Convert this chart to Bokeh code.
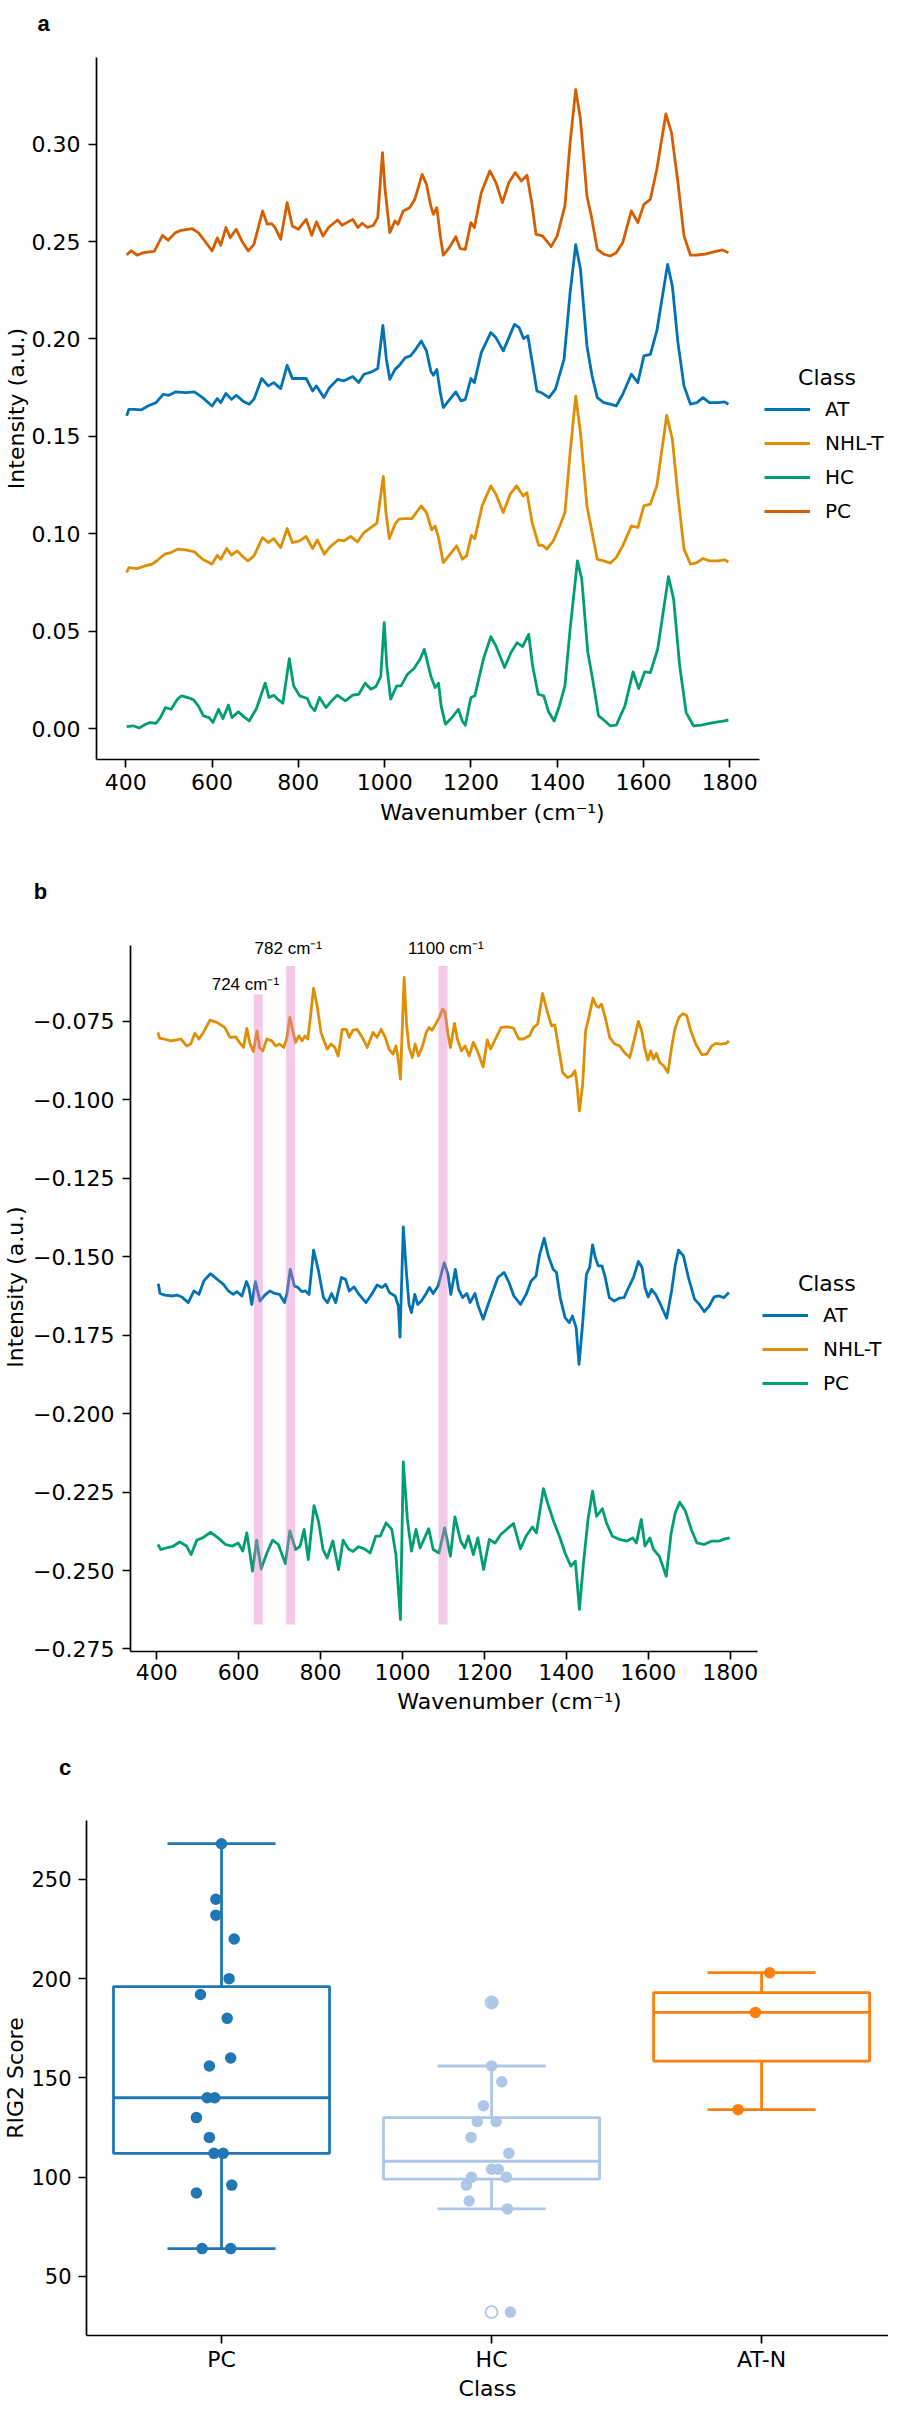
import numpy as np
from bokeh.plotting import figure
from bokeh.layouts import column
from bokeh.models import (Range1d, FixedTicker, CustomJSTickFormatter, Legend,
                          LegendItem, Label)
from bokeh.core.properties import value
from bokeh.embed import file_html
from bokeh.resources import INLINE

# ---------------- data ----------------
# panel a: mean spectra (wavenumber, intensity)
SPEC_A_PC = [(402,.2431),(412,.2453),(426,.2430),(441,.2443),(456,.2447),(466,.2450),(485,.2532),(498,.2507),
 (515,.2546),(529,.2558),(554,.2566),(568,.2546),(583,.2503),(600,.2452),(612,.2519),(620,.2481),(632,.2572),
 (642,.2520),(656,.2563),(671,.2495),(684,.2452),(697,.2486),(717,.2657),(728,.2589),(738,.2592),(746,.2572),
 (759,.2512),(774,.2700),(786,.2580),(800,.2563),(818,.2614),(831,.2532),(842,.2601),(857,.2529),(870,.2572),
 (891,.2611),(901,.2584),(926,.2614),(938,.2572),(948,.2594),(960,.2572),(974,.2584),(984,.2623),(995,.2957),
 (1001,.2768),(1012,.2546),(1024,.2606),(1031,.2589),(1043,.2657),(1058,.2674),(1070,.2717),(1087,.2845),
 (1097,.2794),(1107,.2683),(1113,.2640),(1121,.2674),(1129,.2529),(1136,.2430),(1150,.2469),(1165,.2525),
 (1175,.2464),(1187,.2460),(1200,.2597),(1208,.2572),(1224,.2751),(1244,.2863),(1258,.2803),(1273,.2700),
 (1288,.2803),(1303,.2854),(1317,.2811),(1330,.2840),(1341,.2700),(1351,.2537),(1366,.2529),(1386,.2474),
 (1400,.2529),(1418,.2683),(1430,.3008),(1443,.3280),(1454,.3128),(1469,.2734),(1479,.2632),(1493,.2460),
 (1508,.2435),(1523,.2426),(1537,.2443),(1552,.2495),(1572,.2657),(1587,.2597),(1601,.2691),(1616,.2717),
 (1631,.2871),(1652,.3155),(1665,.3059),(1680,.2803),(1694,.2529),(1709,.2430),(1724,.2431),(1743,.2436),
 (1763,.2447),(1783,.2457),(1797,.2443)]
SPEC_A_AT = [(402,.1605),(407,.1639),(421,.1639),(436,.1636),(451,.1656),(470,.1673),(487,.1716),(500,.1711),
 (515,.1728),(539,.1725),(559,.1728),(578,.1699),(600,.1656),(612,.1694),(620,.1673),(632,.1720),(645,.1690),
 (656,.1711),(671,.1682),(686,.1665),(697,.1690),(715,.1797),(730,.1759),(743,.1776),(759,.1745),(774,.1865),
 (786,.1797),(803,.1797),(818,.1797),(833,.1733),(842,.1759),(859,.1699),(872,.1750),(891,.1793),(906,.1785),
 (926,.1807),(940,.1776),(952,.1819),(970,.1831),(984,.1848),(996,.2070),(1004,.1896),(1012,.1793),(1024,.1844),
 (1033,.1862),(1048,.1904),(1060,.1913),(1072,.1947),(1085,.1990),(1097,.1939),(1107,.1836),(1113,.1814),
 (1121,.1844),(1129,.1725),(1136,.1648),(1150,.1687),(1165,.1728),(1177,.1682),(1187,.1690),(1200,.1797),
 (1208,.1776),(1224,.1930),(1246,.2033),(1258,.2007),(1275,.1939),(1288,.2007),(1301,.2075),(1312,.2058),
 (1322,.2002),(1332,.2016),(1341,.1896),(1353,.1733),(1366,.1721),(1381,.1699),(1396,.1742),(1416,.1896),
 (1430,.2238),(1443,.2484),(1454,.2358),(1469,.1964),(1481,.1810),(1493,.1699),(1508,.1673),(1523,.1665),
 (1537,.1656),(1552,.1716),(1572,.1819),(1587,.1776),(1601,.1913),(1616,.1921),(1631,.2041),(1656,.2383),
 (1667,.2272),(1680,.1981),(1694,.1759),(1709,.1665),(1724,.1673),(1738,.1699),(1753,.1673),(1773,.1673),
 (1788,.1677),(1797,.1665)]
SPEC_A_NHLT = [(402,.0801),(407,.0826),(426,.0821),(441,.0832),(461,.0844),(476,.0869),(490,.0895),(505,.0903),
 (520,.0921),(539,.0917),(559,.0907),(578,.0869),(600,.0844),(612,.0890),(620,.0869),(634,.0924),(645,.0890),
 (658,.0912),(671,.0883),(683,.0861),(697,.0886),(717,.0980),(730,.0955),(743,.0975),(759,.0929),(774,.1027),
 (786,.0955),(803,.0963),(818,.0986),(833,.0924),(844,.0968),(860,.0895),(874,.0934),(893,.0968),(906,.0963),
 (921,.0986),(937,.0958),(952,.1006),(968,.1032),(982,.1054),(997,.1294),(1003,.1109),(1011,.0975),(1024,.1049),
 (1033,.1075),(1046,.1078),(1063,.1078),(1085,.1143),(1097,.1109),(1109,.1020),(1117,.1040),(1125,.0980),
 (1136,.0852),(1150,.0890),(1167,.0938),(1180,.0869),(1190,.0886),(1201,.0992),(1209,.0975),(1226,.1143),
 (1246,.1246),(1258,.1203),(1275,.1109),(1291,.1203),(1306,.1246),(1321,.1194),(1330,.1211),(1342,.1057),
 (1357,.0941),(1366,.0941),(1376,.0921),(1391,.0963),(1406,.1040),(1418,.1109),(1430,.1417),(1443,.1707),
 (1454,.1519),(1469,.1143),(1481,.1006),(1493,.0869),(1508,.0861),(1523,.0849),(1537,.0878),(1552,.0938),
 (1572,.1040),(1587,.1032),(1601,.1143),(1616,.1152),(1631,.1246),(1654,.1608),(1667,.1485),(1680,.1194),
 (1694,.0921),(1709,.0844),(1724,.0852),(1738,.0873),(1753,.0861),(1773,.0861),(1788,.0866),(1797,.0855)]
SPEC_A_HC = [(402,.0010),(417,.0014),(431,.0003),(446,.0022),(456,.0031),(470,.0027),(480,.0056),(492,.0108),
 (505,.0099),(520,.0151),(529,.0168),(544,.0159),(557,.0147),(568,.0116),(580,.0065),(593,.0056),(602,.0031),
 (615,.0099),(625,.0051),(638,.0120),(646,.0056),(661,.0086),(671,.0065),(686,.0039),(703,.0103),(723,.0233),
 (732,.0159),(743,.0171),(754,.0147),(764,.0130),(779,.0359),(789,.0219),(803,.0168),(821,.0154),(828,.0116),
 (838,.0091),(849,.0159),(864,.0108),(877,.0142),(890,.0171),(909,.0142),(926,.0171),(940,.0176),(955,.0233),
 (968,.0202),(980,.0216),(991,.0267),(999,.0544),(1005,.0322),(1014,.0151),(1028,.0219),(1038,.0219),
 (1053,.0279),(1068,.0308),(1082,.0356),(1092,.0407),(1107,.0270),(1117,.0210),(1125,.0233),(1131,.0116),
 (1141,.0022),(1156,.0056),(1171,.0099),(1180,.0039),(1187,.0017),(1200,.0159),(1209,.0168),(1229,.0356),
 (1246,.0472),(1258,.0424),(1278,.0313),(1293,.0390),(1307,.0441),(1320,.0421),(1334,.0484),(1343,.0322),
 (1356,.0176),(1369,.0168),(1380,.0086),(1393,.0039),(1405,.0116),(1418,.0219),(1430,.0510),(1447,.0861),
 (1457,.0767),(1471,.0390),(1481,.0270),(1496,.0065),(1508,.0044),(1523,.0014),(1537,.0017),(1557,.0116),
 (1576,.0291),(1589,.0205),(1603,.0291),(1616,.0287),(1633,.0407),(1658,.0780),(1670,.0664),(1684,.0322),
 (1699,.0082),(1716,.0014),(1734,.0017),(1753,.0027),(1773,.0034),(1788,.0039),(1797,.0044)]

# panel b: difference spectra
SPEC_B_NHLT = [(403,-.0785),(407,-.0803),(419,-.0806),(434,-.0812),(449,-.0809),(459,-.0806),(473,-.0828),
 (483,-.0822),(493,-.0788),(503,-.0806),(514,-.0785),(530,-.0746),(547,-.0753),(566,-.0769),(579,-.0801),
 (593,-.0799),(602,-.0817),(612,-.0833),(620,-.0772),(628,-.0822),(636,-.0846),(645,-.0780),(651,-.0833),
 (659,-.0844),(669,-.0806),(681,-.0812),(690,-.0828),(700,-.0822),(710,-.0833),(718,-.0801),(725,-.0737),
 (733,-.0785),(739,-.0817),(747,-.0796),(755,-.0812),(762,-.0796),(769,-.0806),(776,-.0727),(783,-.0644),
 (791,-.0695),(801,-.0785),(816,-.0838),(826,-.0822),(835,-.0833),(843,-.0860),(853,-.0775),(863,-.0775),
 (870,-.0801),(879,-.0778),(889,-.0775),(902,-.0801),(914,-.0833),(928,-.0785),(938,-.0801),(948,-.0775),
 (958,-.0801),(967,-.0838),(977,-.0854),(984,-.0828),(989,-.0865),(995,-.0934),(1004,-.0610),(1010,-.0759),
 (1016,-.0833),(1024,-.0865),(1031,-.0822),(1039,-.0860),(1049,-.0828),(1058,-.0785),(1065,-.0769),
 (1072,-.0778),(1080,-.0761),(1090,-.0737),(1098,-.0711),(1104,-.0721),(1111,-.0790),(1117,-.0833),
 (1127,-.0756),(1134,-.0806),(1144,-.0844),(1153,-.0828),(1163,-.0860),(1173,-.0817),(1183,-.0844),
 (1197,-.0895),(1207,-.0809),(1215,-.0838),(1227,-.0806),(1241,-.0769),(1256,-.0767),(1271,-.0771),
 (1284,-.0806),(1295,-.0806),(1310,-.0796),(1320,-.0769),(1330,-.0759),(1342,-.0661),(1354,-.0721),
 (1364,-.0764),(1372,-.0761),(1381,-.0833),(1391,-.0913),(1403,-.0929),(1413,-.0923),(1421,-.0907),
 (1425,-.0939),(1432,-.1035),(1440,-.0950),(1447,-.0780),(1455,-.0737),(1465,-.0676),(1473,-.0700),
 (1479,-.0705),(1486,-.0695),(1496,-.0743),(1506,-.0801),(1518,-.0822),(1530,-.0828),(1542,-.0849),
 (1555,-.0865),(1567,-.0801),(1576,-.0750),(1584,-.0780),(1591,-.0833),(1599,-.0873),(1606,-.0844),
 (1613,-.0870),(1620,-.0852),(1628,-.0881),(1638,-.0892),(1648,-.0913),(1657,-.0833),(1665,-.0775),
 (1675,-.0737),(1685,-.0725),(1694,-.0732),(1704,-.0780),(1716,-.0822),(1731,-.0856),(1743,-.0854),
 (1755,-.0828),(1765,-.0820),(1777,-.0822),(1790,-.0820),(1797,-.0812)]
SPEC_B_AT = [(404,-.1586),(408,-.1617),(420,-.1622),(438,-.1625),(450,-.1622),(461,-.1628),(477,-.1646),
 (491,-.1609),(503,-.1620),(515,-.1577),(531,-.1554),(548,-.1572),(563,-.1588),(575,-.1609),(587,-.1620),
 (596,-.1611),(608,-.1625),(619,-.1579),(625,-.1598),(632,-.1652),(641,-.1579),(652,-.1641),(664,-.1622),
 (676,-.1609),(688,-.1617),(700,-.1620),(712,-.1646),(718,-.1617),(726,-.1540),(736,-.1593),(745,-.1598),
 (754,-.1611),(763,-.1609),(772,-.1620),(783,-.1479),(795,-.1545),(807,-.1630),(817,-.1646),(827,-.1617),
 (837,-.1646),(851,-.1566),(861,-.1572),(870,-.1609),(882,-.1596),(894,-.1620),(911,-.1646),(926,-.1617),
 (938,-.1590),(950,-.1598),(959,-.1588),(968,-.1614),(982,-.1625),(990,-.1657),(994,-.1756),(1002,-.1405),
 (1010,-.1556),(1016,-.1652),(1022,-.1678),(1030,-.1620),(1037,-.1652),(1046,-.1641),(1058,-.1617),
 (1066,-.1598),(1075,-.1617),(1087,-.1593),(1102,-.1519),(1111,-.1556),(1118,-.1620),(1129,-.1540),
 (1137,-.1604),(1147,-.1630),(1157,-.1617),(1165,-.1646),(1177,-.1617),(1185,-.1657),(1197,-.1699),
 (1209,-.1652),(1221,-.1609),(1233,-.1566),(1248,-.1550),(1260,-.1582),(1272,-.1625),(1288,-.1652),
 (1302,-.1620),(1314,-.1577),(1326,-.1561),(1335,-.1492),(1346,-.1441),(1356,-.1497),(1368,-.1540),
 (1376,-.1550),(1385,-.1630),(1397,-.1694),(1407,-.1710),(1415,-.1689),(1424,-.1726),(1431,-.1843),
 (1439,-.1726),(1449,-.1556),(1457,-.1534),(1464,-.1462),(1471,-.1503),(1478,-.1529),(1487,-.1529),
 (1495,-.1566),(1505,-.1630),(1517,-.1641),(1529,-.1632),(1541,-.1630),(1552,-.1598),(1564,-.1566),
 (1576,-.1515),(1585,-.1534),(1592,-.1598),(1600,-.1628),(1608,-.1604),(1618,-.1620),(1630,-.1652),
 (1645,-.1696),(1657,-.1609),(1666,-.1526),(1674,-.1479),(1686,-.1497),(1698,-.1566),(1713,-.1635),
 (1725,-.1652),(1737,-.1675),(1749,-.1657),(1761,-.1628),(1773,-.1625),(1785,-.1630),(1797,-.1614)]
SPEC_B_PC = [(403,-.2417),(410,-.2433),(424,-.2428),(438,-.2424),(456,-.2409),(473,-.2422),(484,-.2449),
 (498,-.2403),(512,-.2396),(532,-.2378),(550,-.2396),(568,-.2417),(585,-.2422),(599,-.2412),(610,-.2438),
 (620,-.2380),(634,-.2502),(644,-.2403),(655,-.2495),(669,-.2444),(683,-.2403),(697,-.2417),(714,-.2478),
 (725,-.2374),(739,-.2433),(750,-.2422),(760,-.2369),(770,-.2465),(784,-.2293),(795,-.2343),(806,-.2433),
 (816,-.2460),(830,-.2406),(844,-.2497),(855,-.2403),(868,-.2431),(879,-.2439),(893,-.2424),(907,-.2431),
 (921,-.2444),(935,-.2390),(946,-.2390),(960,-.2348),(974,-.2369),(984,-.2449),(995,-.2656),(1002,-.2154),
 (1012,-.2337),(1022,-.2438),(1033,-.2369),(1043,-.2428),(1054,-.2396),(1064,-.2367),(1075,-.2433),
 (1089,-.2444),(1103,-.2364),(1117,-.2454),(1128,-.2329),(1142,-.2406),(1152,-.2428),(1161,-.2390),
 (1173,-.2449),(1184,-.2396),(1198,-.2497),(1212,-.2401),(1226,-.2412),(1240,-.2385),(1254,-.2369),
 (1271,-.2350),(1288,-.2431),(1302,-.2390),(1317,-.2361),(1327,-.2380),(1344,-.2239),(1358,-.2300),
 (1369,-.2343),(1383,-.2390),(1397,-.2444),(1411,-.2486),(1422,-.2470),(1432,-.2624),(1442,-.2475),
 (1453,-.2337),(1464,-.2247),(1474,-.2327),(1488,-.2303),(1498,-.2348),(1512,-.2390),(1530,-.2401),
 (1548,-.2406),(1562,-.2396),(1571,-.2412),(1583,-.2337),(1592,-.2422),(1604,-.2396),(1613,-.2433),
 (1627,-.2454),(1644,-.2518),(1656,-.2380),(1666,-.2316),(1677,-.2282),(1691,-.2311),(1705,-.2369),
 (1719,-.2412),(1736,-.2417),(1755,-.2406),(1773,-.2406),(1787,-.2399),(1799,-.2396)]

# highlighted bands in panel b
BAND_CENTER = [648, 727, 1099]
BAND_TOP = [-0.0664, -0.0573, -0.0573]
BAND_BOTTOM = -0.2672
BAND_TEXT = ["724 cm\u207b\u00b9", "782 cm\u207b\u00b9", "1100 cm\u207b\u00b9"]

# panel c: RIG2 scores per class
CLASSES_C = ["PC", "HC", "AT-N"]
SCORES_PC = [268, 240, 232, 220, 200, 192, 180, 160, 156, 140, 140, 130, 120, 112, 112, 96, 92, 64, 64]
SCORES_HC = [188, 156, 148, 136, 128, 128, 120, 112, 104, 104, 100, 100, 96, 88, 84, 32]
SCORES_ATN = [203, 183, 134]
# strip-plot horizontal offsets as seen in the picture (category units)
JIT_PC = [0.0, -0.021, -0.021, 0.047, 0.028, -0.078, 0.021, 0.034, -0.045, -0.053, -0.025, -0.093, -0.045,
          -0.028, 0.006, 0.038, -0.093, -0.072, 0.034]
JIT_HC = [0.004, 0.0, 0.038, -0.030, -0.053, 0.017, -0.076, 0.064, 0.0, 0.025, -0.074, 0.055, -0.093,
          -0.083, 0.059, 0.070]
JIT_ATN = [0.030, -0.023, -0.087]

TICKS_WN = [400, 600, 800, 1000, 1200, 1400, 1600, 1800]
TICKS_A_Y = [0.0, 0.05, 0.10, 0.15, 0.20, 0.25, 0.30]
TICKS_B_Y = [-0.275, -0.25, -0.225, -0.2, -0.175, -0.15, -0.125, -0.1, -0.075]
TICKS_C_Y = [50, 100, 150, 200, 250]

# ---------------- layout (page pixels; page has 8px margin) ----------------
W = 888
RIGHT = 8 + W
FA = dict(ftop=44, fh=826, left=98, top=65, bottom=767, axr=766,
          xb=(332, 1869), yb=(-0.0159, 0.3445))
FB = dict(ftop=910, fh=827, left=134, top=930, bottom=1659, axr=764, axt=953,
          xb=(336, 1866), yb=(-0.2758, -0.0508))
FC = dict(ftop=1800, fh=611, left=88, top=1828, bottom=2347, axr=896,
          xb=(-0.5, 2.47), yb=(20.2, 279.7))

BLUE, ORANGE, GREEN, RED = "#0173b2", "#de8f05", "#029e73", "#d55e00"
C_COLORS = ["#1f77b4", "#aec7e8", "#ff7f0e"]
FONT = "DejaVu Sans"
LW = 2.8


def scale(F):
    xpp = (F["xb"][1] - F["xb"][0]) / (F["axr"] - F["left"])
    axt = F.get("axt", F["top"])
    ypp = (F["yb"][1] - F["yb"][0]) / (F["bottom"] - axt)
    return xpp, ypp


def make_fig(F):
    xpp, ypp = scale(F)
    x_end = F["xb"][0] + (RIGHT - F["left"]) * xpp
    y_end = F["yb"][0] + (F["bottom"] - F["top"]) * ypp
    lb = F["left"] - 8
    tb = F["top"] - F["ftop"]
    p = figure(width=W, height=F["fh"], x_range=Range1d(F["xb"][0], x_end),
               y_range=Range1d(F["yb"][0], y_end),
               output_backend="svg", toolbar_location=None, tools="",
               min_border_left=lb, min_border_right=0,
               min_border_top=tb, min_border_bottom=F["fh"] - tb - (F["bottom"] - F["top"]))
    p.outline_line_color = None
    p.grid.visible = False
    p.background_fill_color = "white"
    p.border_fill_color = "white"
    p.xaxis.bounds = F["xb"]
    p.yaxis.bounds = F["yb"]
    for ax in (p.xaxis[0], p.yaxis[0]):
        ax.axis_line_width = 1.7
        ax.axis_line_color = "black"
        ax.major_tick_line_width = 1.7
        ax.major_tick_line_color = "black"
        ax.major_tick_out = 8
        ax.major_tick_in = 0
        ax.minor_tick_out = 0
        ax.minor_tick_in = 0
        ax.major_label_text_font = FONT
        ax.major_label_text_font_size = "22px"
        ax.major_label_text_color = "black"
        ax.axis_label_text_font = FONT
        ax.axis_label_text_font_size = "22px"
        ax.axis_label_text_font_style = "normal"
        ax.axis_label_text_color = "black"
    return p


def to_data(F, px, py):
    xpp, ypp = scale(F)
    return F["xb"][0] + (px - F["left"]) * xpp, F["yb"][0] + (F["bottom"] - py) * ypp


def add_label(p, F, px, py, text, size="22px", font=FONT):
    x, y = to_data(F, px, py)
    p.add_layout(Label(x=x, y=y, text=text, text_font=font, text_font_size=size,
                       text_align="center", text_baseline="middle", text_color="black"))


def add_legend(p, F, items, left_px, first_center_px):
    n = len(items)
    bottom_px = first_center_px - 15 + n * 30 + (n - 1) * 4
    leg = Legend(items=items, location=(left_px - F["left"], F["bottom"] - bottom_px),
                 orientation="vertical", glyph_width=46, glyph_height=30, label_height=30,
                 spacing=4, label_standoff=15, padding=0, margin=0,
                 border_line_color=None, background_fill_alpha=0,
                 label_text_font=FONT, label_text_font_size="20px", label_text_color="black")
    p.add_layout(leg)


def letter_fig(h, ftop, px, baseline_py, letter):
    p = figure(width=W, height=h, x_range=Range1d(0, W), y_range=Range1d(0, h),
               output_backend="svg", toolbar_location=None, tools="",
               x_axis_type=None, y_axis_type=None, min_border=0)
    p.outline_line_color = None
    p.grid.visible = False
    p.text(x=[px - 8], y=[ftop + h - baseline_py], text=[letter], text_font=value("Liberation Sans"),
           text_font_style="bold", text_font_size="22px", text_align="center",
           text_baseline="alphabetic", text_color="black")
    return p


def xs(spec):
    return [a for a, _ in spec]


def ys(spec):
    return [b for _, b in spec]


def style_wn_axis(p):
    p.xaxis.ticker = FixedTicker(ticks=TICKS_WN)
    p.xaxis.formatter = CustomJSTickFormatter(code="return tick.toFixed(0);")
    p.xaxis.axis_label = "Wavenumber (cm\u207b\u00b9)"


# ---------------- panel a ----------------
pa = make_fig(FA)
ra = {}
for name, spec, col in [("AT", SPEC_A_AT, BLUE), ("NHL-T", SPEC_A_NHLT, ORANGE),
                        ("HC", SPEC_A_HC, GREEN), ("PC", SPEC_A_PC, RED)]:
    ra[name] = pa.line(xs(spec), ys(spec), line_color=col, line_width=LW, line_join="round")
style_wn_axis(pa)
pa.xaxis.major_label_standoff = 6
pa.xaxis.axis_label_standoff = 7
pa.yaxis.ticker = FixedTicker(ticks=TICKS_A_Y)
pa.yaxis.formatter = CustomJSTickFormatter(code="return tick.toFixed(2);")
pa.yaxis.axis_label = "Intensity (a.u.)"
pa.yaxis.major_label_standoff = 8
pa.yaxis.axis_label_standoff = 0
add_legend(pa, FA, [LegendItem(label=k, renderers=[ra[k]]) for k in ["AT", "NHL-T", "HC", "PC"]],
           766, 417)
add_label(pa, FA, 834, 385, "Class")

# ---------------- panel b ----------------
pb = make_fig(FB)
rb = {}
for name, spec, col in [("AT", SPEC_B_AT, BLUE), ("NHL-T", SPEC_B_NHLT, ORANGE), ("PC", SPEC_B_PC, GREEN)]:
    rb[name] = pb.line(xs(spec), ys(spec), line_color=col, line_width=LW, line_join="round")
pb.quad(left=[c - 11 for c in BAND_CENTER], right=[c + 11 for c in BAND_CENTER],
        bottom=[BAND_BOTTOM] * len(BAND_CENTER), top=BAND_TOP,
        fill_color="#e377c2", fill_alpha=0.4, line_color=None)
style_wn_axis(pb)
pb.xaxis.major_label_standoff = 4
pb.xaxis.axis_label_standoff = 6
pb.yaxis.ticker = FixedTicker(ticks=TICKS_B_Y)
pb.yaxis.formatter = CustomJSTickFormatter(code="return tick.toFixed(3).replace('-', '\\u2212');")
pb.yaxis.axis_label = "Intensity (a.u.)"
pb.yaxis.major_label_standoff = 8
pb.yaxis.axis_label_standoff = 2
add_legend(pb, FB, [LegendItem(label=k, renderers=[rb[k]]) for k in ["AT", "NHL-T", "PC"]],
           766, 1323.3)
add_label(pb, FB, 834, 1291, "Class")
for txt, (px, py) in zip(BAND_TEXT, [(249.5, 991.7), (292.6, 956.0), (451.0, 956.0)]):
    add_label(pb, FB, px, py, txt, size="17px", font="Liberation Sans")

# ---------------- panel c ----------------
pc = make_fig(FC)
for i, (scores, jit, col) in enumerate([(SCORES_PC, JIT_PC, C_COLORS[0]),
                                        (SCORES_HC, JIT_HC, C_COLORS[1]),
                                        (SCORES_ATN, JIT_ATN, C_COLORS[2])]):
    arr = np.array(scores, dtype=float)
    q1, med, q3 = np.percentile(arr, [25, 50, 75])
    iqr = q3 - q1
    inside = arr[(arr >= q1 - 1.5 * iqr) & (arr <= q3 + 1.5 * iqr)]
    lo, hi = inside.min(), inside.max()
    outl = arr[(arr < q1 - 1.5 * iqr) | (arr > q3 + 1.5 * iqr)]
    kw = dict(line_color=col, line_width=LW)
    pc.quad(left=[i - 0.4], right=[i + 0.4], bottom=[q1], top=[q3], fill_color=None, **kw)
    pc.segment(x0=[i - 0.4, i, i, i - 0.2, i - 0.2], y0=[med, q3, q1, hi, lo],
               x1=[i + 0.4, i, i, i + 0.2, i + 0.2], y1=[med, hi, lo, hi, lo], **kw)
    if len(outl):
        pc.scatter(x=[i] * len(outl), y=list(outl), marker="circle", size=12, fill_color=None,
                   line_color=col, line_width=1.8)
    pc.scatter(x=[i + j for j in jit], y=scores, marker="circle", size=11.5,
               fill_color=col, line_color=None)
pc.xaxis.ticker = FixedTicker(ticks=[0, 1, 2])
pc.xaxis.major_label_overrides = {0: CLASSES_C[0], 1: CLASSES_C[1], 2: CLASSES_C[2]}
pc.xaxis.axis_label = "Class"
pc.xaxis.major_label_standoff = 3
pc.xaxis.axis_label_standoff = 1
pc.yaxis.ticker = FixedTicker(ticks=TICKS_C_Y)
pc.yaxis.formatter = CustomJSTickFormatter(code="return tick.toFixed(0);")
pc.yaxis.axis_label = "RIG2 Score"
pc.yaxis.major_label_text_font_size = "21px"
pc.yaxis.major_label_standoff = 7
pc.yaxis.axis_label_standoff = 0

# ---------------- panel letters ----------------
la = letter_fig(36, 8, 51, 31, "a")
lb = letter_fig(40, 870, 48, 898.5, "b")
lc = letter_fig(63, 1737, 72.5, 1775, "c")

# each figure in its own column so that their frames are not aligned to each other
layout = column(*[column(f, spacing=0) for f in (la, pa, lb, pb, lc, pc)], spacing=0)
open("out.html", "w").write(file_html(layout, INLINE))
